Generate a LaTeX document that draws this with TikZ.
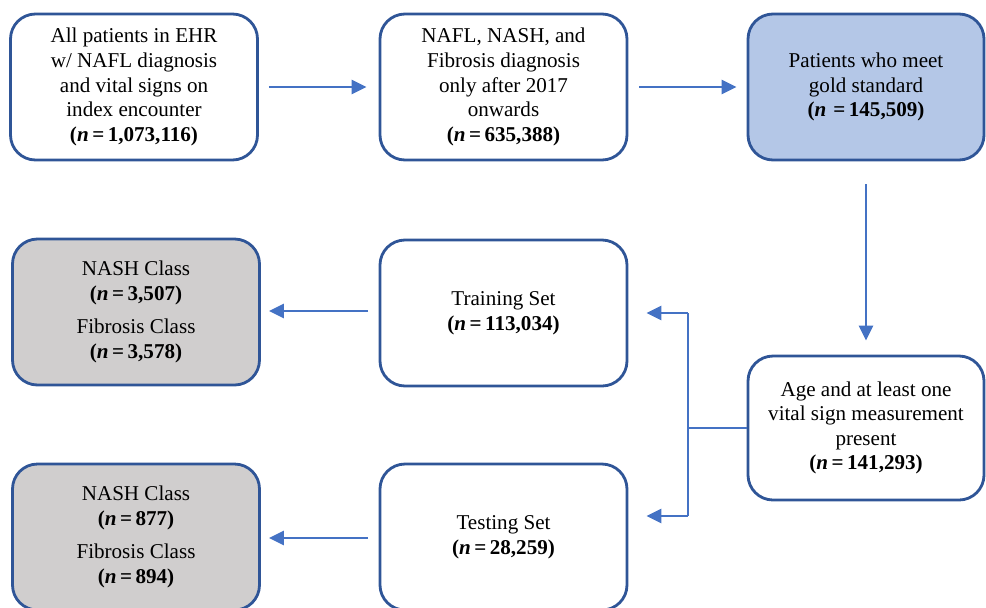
\documentclass[tikz,border=0pt]{standalone}
\usepackage{fontspec}
\setmainfont{Liberation Serif}
\usetikzlibrary{arrows.meta, positioning}

\definecolor{boxline}{HTML}{2F5597}
\definecolor{arrowblue}{HTML}{4472C4}
\definecolor{goldfill}{HTML}{B4C7E7}
\definecolor{classfill}{HTML}{D0CECE}

\newcommand{\ncount}[1]{\textbf{(\textit{n}\,=\,#1)}}

\begin{document}
\begin{tikzpicture}[
    box/.style={draw=boxline, line width=1.6pt, rounded corners=0.5cm, fill=white,
                minimum width=4.94cm, minimum height=2.92cm, align=center,
                font=\fontsize{12}{14}\selectfont},
    goldbox/.style={box, fill=goldfill},
    classbox/.style={box, fill=classfill},
    arrow/.style={-{Triangle[length=0.3cm, width=0.28cm]}, draw=arrowblue, line width=1.4pt},
    thinline/.style={draw=arrowblue, line width=0.7pt}]

    \useasboundingbox (0,0) rectangle (19.72,-12.14);

    \node [box] (all) at (2.68 , -1.74) {All patients in EHR\\ w/ NAFL diagnosis\\ and vital signs on\\ index encounter\\ \ncount{1,073,116}};
    \node [box] (diag) at (10.07 , -1.74) {NAFL, NASH, and\\ Fibrosis diagnosis\\ only after 2017\\ onwards\\ \ncount{635,388}};
    \node [goldbox, minimum width=4.72cm] (gold) at (17.32 , -1.74) {Patients who meet\\ gold standard\\ \textbf{(\textit{n}\,\,=\,145,509)}};
    \node [box, minimum width=4.72cm, minimum height=2.88cm] (vital) at (17.32 , -8.56) {Age and at least one\\ vital sign measurement\\ present\\ \ncount{141,293}};
    \node [box] (train) at (10.07 , -6.26) {Training Set\\ \ncount{113,034}};
    \node [box] (test) at (10.07 , -10.74) {Testing Set\\ \ncount{28,259}};
    \node [classbox] (trainclass) at (2.72 , -6.24) {NASH Class\\ \ncount{3,507}\\[5pt] Fibrosis Class\\ \ncount{3,578}};
    \node [classbox] (testclass) at (2.72 , -10.74) {NASH Class\\ \ncount{877}\\[5pt] Fibrosis Class\\ \ncount{894}};

    \coordinate (split) at (13.76 , -8.56);
    \coordinate (splittop) at (13.76 , -6.26);
    \coordinate (splitbot) at (13.76 , -10.32);
    \coordinate (trainleft) at (7.6 , -6.22);
    \coordinate (testleft) at (7.6 , -10.76);

    \draw[arrow, shorten <=0.2cm, shorten >=0.24cm] (all) -- (diag);
    \draw[arrow, shorten <=0.22cm, shorten >=0.2cm] (diag) -- (gold);
    \draw[arrow, shorten <=0.46cm, shorten >=0.28cm] (gold) -- (vital);
    \draw[arrow, shorten <=0.24cm, shorten >=0.16cm] (trainleft) -- (trainleft -| trainclass.east);
    \draw[arrow, shorten <=0.24cm, shorten >=0.16cm] (testleft) -- (testleft -| testclass.east);

    \draw[thinline] (vital.west) -- (split);
    \draw[thinline] (splittop) -- (splitbot);
    \draw[arrow, shorten >=0.36cm] (splittop) -- (splittop -| train.east);
    \draw[arrow, shorten >=0.36cm] (splitbot) -- (splitbot -| test.east);
\end{tikzpicture}
\end{document}
